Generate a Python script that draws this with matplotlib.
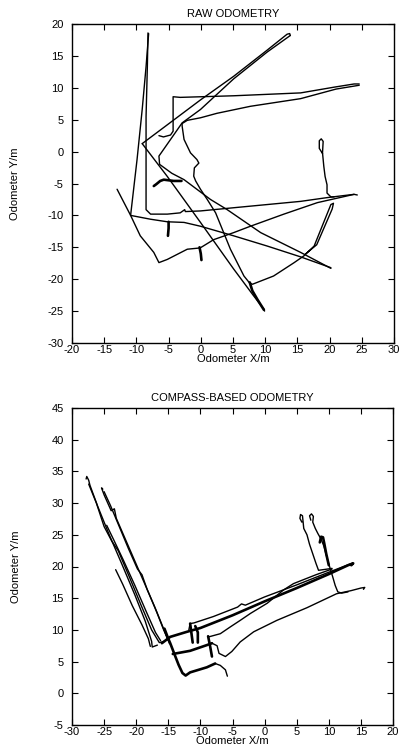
import matplotlib
matplotlib.use("Agg")
import matplotlib.pyplot as plt

plt.rcParams['font.family'] = ['Liberation Sans', 'DejaVu Sans']
plt.rcParams['axes.unicode_minus'] = False

# ---- raw odometry paths (x, y in metres) ----
raw_p1 = [(-13.0, -5.9), (-10.9, -10.0), (-9.4, -13.2), (-7.3, -15.8), (-6.5, -17.4), (-5.2, -16.9),
          (-2.1, -15.3), (-0.1, -15.1), (2.0, -13.8), (5.1, -12.7), (7.7, -11.7), (12.9, -9.8),
          (18.1, -8.0), (23.8, -6.7)]
raw_p2 = [(-10.9, -10.0), (-7.8, -10.6), (-5.2, -11.0), (-2.6, -11.1), (-0.05, -11.7), (5.1, -13.2),
          (10.3, -14.8), (15.5, -16.5), (20.2, -18.2)]
raw_p3 = [(-8.1, 18.5), (-8.5, 13.3), (-9.1, 6.6), (-9.9, -1.25), (-10.9, -10.0)]
raw_p4 = [(-8.2, 18.6), (-8.3, 13.3), (-8.5, 5.5), (-8.5, -2.3), (-8.5, -9.1), (-7.8, -9.8), (-5.2, -9.8),
          (-3.2, -9.6), (-2.5, -9.1), (-2.4, -9.4), (-0.05, -9.3), (5.1, -8.8), (10.3, -8.3), (15.5, -7.8),
          (19.7, -7.2), (23.8, -6.7), (24.3, -6.8)]
raw_p5 = [(18.9, -0.3), (18.4, 0.5), (18.4, 1.7), (18.7, 2.0), (19.0, 1.6), (18.9, -0.2), (19.1, -2.3),
          (19.3, -3.9), (19.6, -5.2), (19.6, -6.5), (20.2, -7.1), (20.7, -7.1)]
raw_p6 = [(-9.1, 1.25), (-5.2, -3.9), (-0.05, -11.1), (5.1, -18.4), (8.2, -22.6), (9.8, -24.7), (9.9, -25.0)]
raw_p7 = [(-9.1, 1.25), (-5.2, 4.2), (-0.05, 8.1), (5.1, 11.8), (10.3, 15.9), (13.4, 18.4), (13.8, 18.5),
          (13.9, 18.2)]
raw_p8 = [(13.9, 18.2), (10.3, 15.6), (5.1, 11.4), (-0.05, 6.6), (-2.9, 4.5), (-4.7, 1.9), (-6.5, -0.7),
          (-6.4, -2.0), (-4.5, -3.4), (-2.6, -4.4), (1.5, -7.5), (4.1, -9.1), (9.3, -12.7), (15.5, -15.8),
          (20.2, -18.3)]
raw_p9 = [(-6.5, 2.5), (-5.8, 2.3), (-4.7, 2.6), (-4.3, 3.2), (-4.3, 8.6), (-3.2, 8.5), (5.1, 8.75),
          (15.5, 9.2), (20.7, 10.1), (23.8, 10.6), (24.6, 10.6)]
raw_p10 = [(24.6, 10.4), (21.0, 9.8), (15.5, 8.3), (7.7, 7.1), (2.5, 6.0), (-0.05, 5.3), (-2.1, 4.9),
           (-2.9, 4.4), (-2.9, 4.0), (-2.6, 1.9), (-1.6, -0.2), (-0.6, -1.25), (-0.3, -1.8), (-1.0, -2.55),
           (-1.1, -3.85), (-0.8, -4.6), (-0.05, -5.9), (1.0, -7.5), (2.3, -9.6), (4.6, -15.3), (6.7, -19.5),
           (7.5, -20.5), (8.0, -20.8), (11.3, -19.5), (14.5, -17.4), (16.0, -16.35), (17.6, -14.8),
           (20.2, -8.3), (20.6, -8.1), (20.4, -9.0), (18.0, -14.6), (16.2, -16.1)]
raw_spurs = [
    [(-0.2, -15.0), (0.0, -16.0), (0.1, -17.0)],
    [(-5.0, -11.0), (-5.0, -12.0), (-5.1, -13.2)],
    [(-7.3, -5.4), (-6.9, -5.1), (-6.3, -4.6), (-5.75, -4.4), (-4.2, -4.6), (-3.0, -4.6)],
    [(7.6, -20.5), (8.0, -21.8), (8.8, -23.2), (9.8, -24.8)],
]

# ---- compass-based odometry paths ----
comp_b1 = [(-27.8, 33.8), (-27.7, 34.2), (-27.4, 33.6), (-27.2, 32.8), (-26.0, 29.5), (-24.2, 25.0),
           (-22.2, 20.3), (-20.2, 15.5), (-18.6, 11.4), (-17.6, 8.2), (-17.5, 7.3), (-16.7, 7.6)]
comp_b2 = [(-27.4, 33.0), (-26.2, 30.0), (-25.0, 26.3), (-23.8, 24.0), (-22.8, 22.5), (-21.0, 18.2),
           (-19.2, 13.8), (-17.6, 10.0), (-16.4, 8.0), (-15.6, 8.2)]
comp_b3 = [(-25.2, 32.2), (-25.4, 32.4), (-25.0, 31.3), (-23.9, 28.8), (-23.4, 29.1), (-23.1, 27.6),
           (-21.6, 24.1), (-20.1, 20.6), (-18.6, 17.1), (-17.1, 13.6), (-15.9, 10.6), (-15.1, 8.6), (-14.8, 7.8)]
comp_b4 = [(-25.0, 31.8), (-24.0, 29.6), (-22.6, 26.2), (-21.2, 22.8), (-19.8, 19.6), (-19.1, 18.7),
           (-18.3, 16.4), (-16.8, 12.8), (-15.8, 10.2), (-15.0, 8.3)]
comp_b5 = [(-23.2, 19.5), (-22.1, 17.2), (-20.6, 13.8), (-19.1, 10.8), (-18.1, 8.6), (-17.8, 7.4)]
comp_b6 = [(-24.6, 26.5), (-23.5, 24.2), (-22.0, 21.0), (-20.2, 17.0), (-18.4, 12.8), (-17.0, 9.6), (-16.2, 8.3)]
comp_tail = [(-7.7, 4.7), (-6.9, 4.4), (-6.1, 3.7), (-5.8, 2.7)]
comp_low = [(-8.2, 7.9), (-7.4, 7.5), (-7.1, 6.3), (-6.1, 5.8), (-5.1, 6.6), (-3.8, 8.1), (-1.7, 9.7),
            (1.9, 11.5), (6.6, 13.5), (11.2, 15.7), (13.5, 16.2), (15.0, 16.6), (15.6, 16.7), (15.4, 16.4)]
comp_wavy = [(-8.7, 8.9), (-6.9, 9.4), (-5.3, 10.5), (-3.8, 11.5), (-2.2, 12.6), (0.4, 14.2), (2.95, 16.3),
             (4.5, 17.3), (8.0, 18.7), (10.5, 19.6)]
comp_upper = [(-11.8, 10.0), (-11.6, 11.0), (-11.0, 11.1), (-8.0, 12.1), (-4.2, 13.6), (-3.6, 14.1),
              (-3.0, 13.9), (0.0, 15.2), (5.0, 17.1), (10.0, 19.1), (13.6, 20.5)]
comp_r1 = [(5.8, 27.0), (5.5, 27.6), (5.6, 28.2), (5.9, 28.0), (6.0, 27.0), (6.1, 26.0), (6.6, 25.0),
           (7.0, 23.5), (7.5, 22.0), (8.0, 20.5), (8.4, 19.4), (10.5, 19.7)]
comp_r2 = [(7.2, 27.3), (7.0, 28.0), (7.3, 28.3), (7.6, 27.9), (7.5, 27.0), (7.9, 26.0), (8.3, 25.2),
           (8.8, 24.3), (9.2, 23.3), (9.6, 21.8), (10.0, 20.4), (10.3, 19.4), (10.6, 18.4), (11.0, 17.0),
           (11.4, 16.0), (12.0, 15.8), (13.0, 16.0)]
# thicker (repeatedly travelled) pieces
comp_thick = [
    [(-15.6, 10.2), (-15.0, 8.6), (-14.7, 7.9), (-13.9, 5.8), (-13.4, 4.5), (-12.8, 3.2), (-12.3, 2.8),
     (-11.6, 3.3), (-9.0, 4.1), (-7.7, 4.7)],
    [(-16.0, 7.9), (-14.7, 8.9), (-12.1, 9.7), (-10.0, 10.3), (-5.0, 12.3), (0.0, 14.5), (5.0, 16.6),
     (10.0, 18.8), (13.0, 20.2), (13.8, 20.5), (13.5, 20.2)],
    [(-14.3, 6.2), (-11.6, 6.7), (-9.0, 7.6), (-8.2, 7.9)],
    [(-11.6, 11.0), (-11.4, 9.5), (-11.2, 8.0)],
    [(-10.8, 10.6), (-10.4, 9.6), (-10.4, 8.0)],
    [(-8.8, 9.0), (-8.5, 7.5), (-8.2, 5.8)],
    [(8.6, 23.8), (8.8, 24.7), (9.1, 24.6), (9.3, 23.6), (9.6, 22.0), (10.0, 20.2)],
]

raw_paths = [raw_p1, raw_p2, raw_p3, raw_p4, raw_p5, raw_p6, raw_p7, raw_p8, raw_p9, raw_p10]
comp_paths = [comp_b1, comp_b2, comp_b3, comp_b4, comp_b5, comp_b6, comp_tail, comp_low,
              comp_wavy, comp_upper, comp_r1, comp_r2]

W, H = 399, 753
fig = plt.figure(figsize=(W / 100, H / 100), dpi=100)
ax1 = fig.add_axes([72 / W, 1 - 343 / H, 322 / W, 319 / H])
ax2 = fig.add_axes([72 / W, 1 - 725 / H, 321 / W, 317 / H])


def draw(ax, paths, thick, thin_lw=1.0, thick_lw=1.9):
    for p in paths:
        xs, ys = zip(*p)
        ax.plot(xs, ys, color='black', lw=thin_lw, solid_joinstyle='round', solid_capstyle='round')
    for p in thick:
        xs, ys = zip(*p)
        ax.plot(xs, ys, color='black', lw=thick_lw, solid_joinstyle='round', solid_capstyle='round')


def style(ax, xlim, ylim, title):
    ax.set_xlim(*xlim)
    ax.set_ylim(*ylim)
    ax.set_xticks(range(xlim[0], xlim[1] + 1, 5))
    ax.set_yticks(range(ylim[0], ylim[1] + 1, 5))
    ax.tick_params(direction='in', top=True, right=True, length=4, width=0.8, labelsize=8)
    ax.tick_params(axis='x', pad=1.5)
    ax.tick_params(axis='y', pad=6)
    for s in ax.spines.values():
        s.set_linewidth(1.0)
    ax.set_title(title, fontsize=8, pad=5)
    ax.set_xlabel('Odometer X/m', fontsize=8)
    ax.set_ylabel('Odometer Y/m', fontsize=8)
    ax.xaxis.set_label_coords(0.5, -0.034)
    ax.yaxis.set_label_coords(-0.16, 0.5)


draw(ax1, raw_paths, raw_spurs)
style(ax1, (-20, 30), (-30, 20), 'RAW ODOMETRY')
draw(ax2, comp_paths, comp_thick)
style(ax2, (-30, 20), (-5, 45), 'COMPASS-BASED ODOMETRY')

fig.savefig('out.png', dpi=100, facecolor='white')
